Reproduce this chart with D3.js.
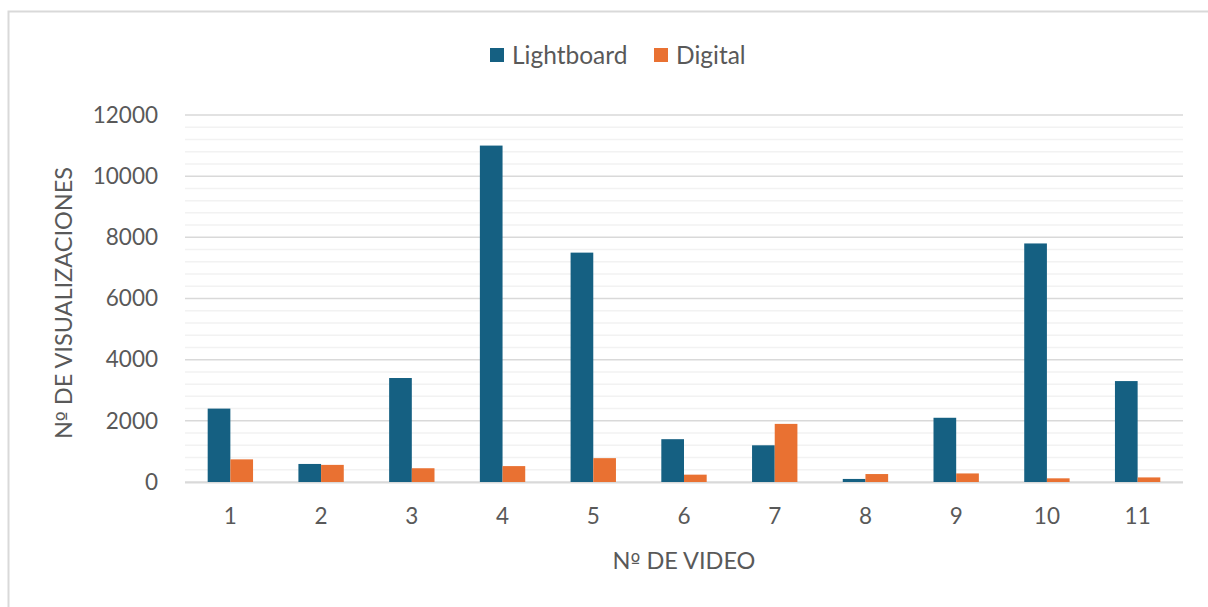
<!DOCTYPE html>
<html>
<head>
<meta charset="utf-8">
<script src="https://cdn.jsdelivr.net/npm/d3@7"></script>
<style>
  body { margin: 0; background: #fff; }
  text { font-family: Lato, "Open Sans", sans-serif; fill: #595959; }
  .ord { font-family: "DejaVu Sans", sans-serif; font-size: 21px; }
</style>
</head>
<body>
<div id="chart"></div>
<script>
var videos = ["1", "2", "3", "4", "5", "6", "7", "8", "9", "10", "11"];
var lightboard = [2400, 590, 3400, 11000, 7500, 1400, 1200, 100, 2100, 7800, 3300];
var digital = [740, 560, 450, 520, 780, 240, 1900, 260, 280, 120, 150];
var seriesNames = ["Lightboard", "Digital"];
var seriesColors = ["#156082", "#E97132"];
var yTicks = [0, 2000, 4000, 6000, 8000, 10000, 12000];

var width = 1208, height = 607;
var plot = {left: 185, right: 1183, top: 115, bottom: 482};

var svg = d3.select("#chart")
    .append("svg")
        .attr("width", width)
        .attr("height", height);

// outer frame of the chart
svg.append("rect")
    .attr("x", 8.5)
    .attr("y", 11.5)
    .attr("width", 1220)
    .attr("height", 620)
    .attr("fill", "none")
    .attr("stroke", "#D9D9D9")
    .attr("stroke-width", 2);

var x = d3.scaleBand()
    .domain(videos)
    .range([plot.left, plot.right]);

var bw = x.bandwidth();
var xSub = d3.scaleBand()
    .domain(seriesNames)
    .range([bw / 4, bw * 3 / 4]);

var y = d3.scaleLinear()
    .domain([0, 12000])
    .range([plot.bottom, plot.top]);

// minor gridlines
var minor = d3.range(0, 12001, 400).filter(function(v) { return v % 2000 != 0; });
svg.append("g")
    .selectAll("line")
    .data(minor)
    .enter()
    .append("line")
    .attr("x1", plot.left)
    .attr("x2", plot.right)
    .attr("y1", function(d) { return y(d); })
    .attr("y2", function(d) { return y(d); })
    .attr("stroke", "#F2F2F2")
    .attr("stroke-width", 1.5);

// major gridlines
svg.append("g")
    .selectAll("line")
    .data(yTicks)
    .enter()
    .append("line")
    .attr("x1", plot.left)
    .attr("x2", plot.right)
    .attr("y1", function(d) { return y(d); })
    .attr("y2", function(d) { return y(d); })
    .attr("stroke", "#D9D9D9")
    .attr("stroke-width", 1.5);

// y axis labels
var yAxis = svg.append("g")
    .attr("transform", "translate(" + (plot.left - 27) + ",0)")
    .call(d3.axisLeft(y).tickValues(yTicks).tickFormat(d3.format("d")).tickSize(0).tickPadding(0));
yAxis.select(".domain").remove();
yAxis.selectAll("text")
    .attr("font-size", "22.5px")
    .attr("fill", "#595959")
    .style("font-family", "Lato, sans-serif");

// x axis labels
var xAxis = svg.append("g")
    .attr("transform", "translate(0," + (plot.bottom + 26) + ")")
    .call(d3.axisBottom(x).tickSize(0).tickPadding(0));
xAxis.select(".domain").remove();
xAxis.selectAll("text")
    .attr("font-size", "22.5px")
    .attr("fill", "#595959")
    .style("font-family", "Lato, sans-serif");

// bars
var rows = videos.map(function(v, i) {
    return {video: v, values: [lightboard[i], digital[i]]};
});

var groups = svg.append("g")
    .selectAll("g")
    .data(rows)
    .enter()
    .append("g")
    .attr("transform", function(d) { return "translate(" + x(d.video) + ",0)"; });

groups.selectAll("rect")
    .data(function(d) {
        return d.values.map(function(v, j) { return {name: seriesNames[j], value: v, color: seriesColors[j]}; });
    })
    .enter()
    .append("rect")
    .attr("x", function(d) { return xSub(d.name); })
    .attr("width", xSub.bandwidth())
    .attr("y", function(d) { return y(d.value); })
    .attr("height", function(d) { return y(0) - y(d.value); })
    .attr("fill", function(d) { return d.color; });

// baseline
svg.append("line")
    .attr("x1", plot.left)
    .attr("x2", plot.right)
    .attr("y1", y(0) + 0.75)
    .attr("y2", y(0) + 0.75)
    .attr("stroke", "#D9D9D9")
    .attr("stroke-width", 1.5);

// axis titles ("Nº" ordinal taken from DejaVu so it keeps its underline)
var xTitle = svg.append("text")
    .attr("text-anchor", "middle")
    .attr("x", 684)
    .attr("y", 569)
    .attr("font-size", "23.5px");
xTitle.append("tspan").text("N");
xTitle.append("tspan").attr("class", "ord").text("º");
xTitle.append("tspan").text(" DE VIDEO");

var yTitle = svg.append("text")
    .attr("text-anchor", "middle")
    .attr("transform", "translate(72,303) rotate(-90)")
    .attr("font-size", "23.5px");
yTitle.append("tspan").text("N");
yTitle.append("tspan").attr("class", "ord").text("º");
yTitle.append("tspan").text(" DE VISUALIZACIONES");

// legend
var legendX = [490, 654];
var legend = svg.append("g")
    .selectAll("g")
    .data(seriesNames)
    .enter()
    .append("g")
    .attr("transform", function(d, i) { return "translate(" + legendX[i] + ",48)"; });

legend.append("rect")
    .attr("width", 14)
    .attr("height", 14)
    .attr("fill", function(d, i) { return seriesColors[i]; });

legend.append("text")
    .attr("x", 22)
    .attr("y", 15.5)
    .attr("font-size", "24.5px")
    .text(function(d) { return d; });
</script>
</body>
</html>
